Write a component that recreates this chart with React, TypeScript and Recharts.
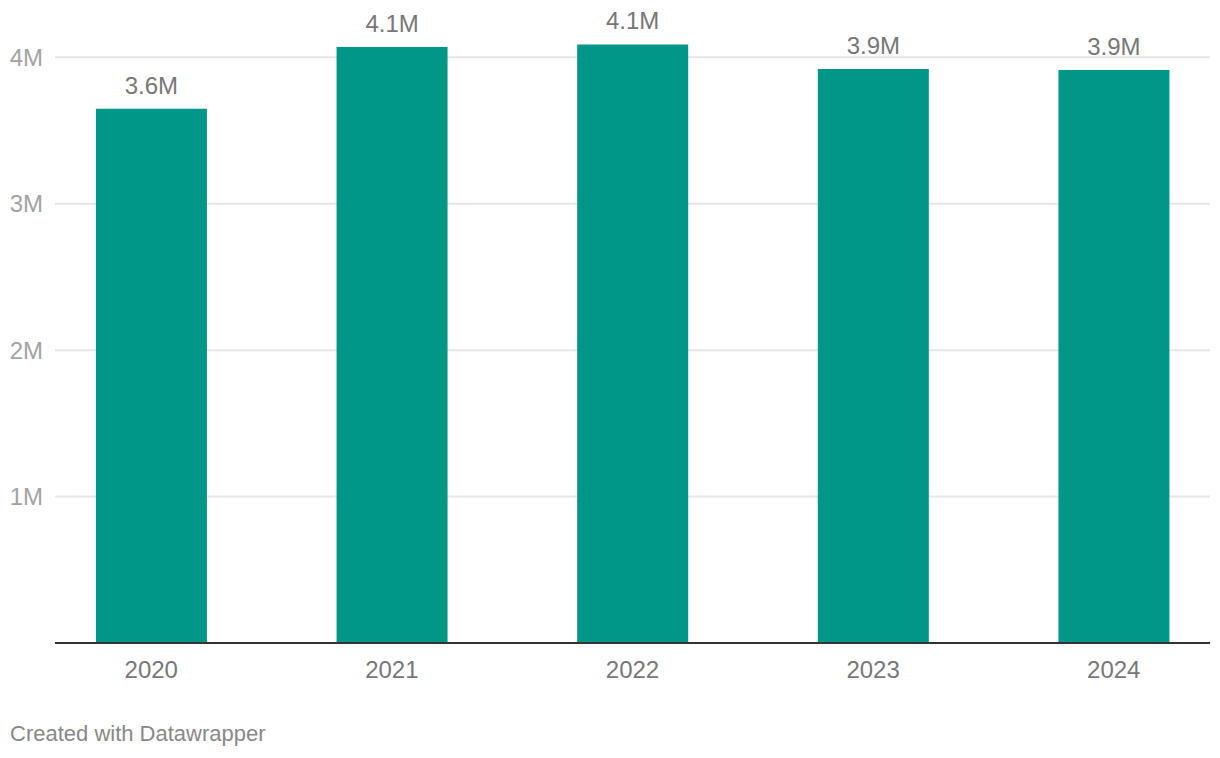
import { BarChart, Bar, XAxis, YAxis, CartesianGrid, LabelList } from 'recharts'

const years = ['2020', '2021', '2022', '2023', '2024']
const visitors = [3648000, 4070000, 4088000, 3920000, 3914000]
const yTicks = [1000000, 2000000, 3000000, 4000000]

const data = years.map((year, i) => ({ idx: i, year, value: visitors[i] }))
const FONT = '"Liberation Sans", Arial, Helvetica, sans-serif'

const fmtM = (v: number) => (v / 1e6).toFixed(1) + 'M'

export default function App() {
  return (
    <div
      style={{
        position: 'absolute',
        left: 0,
        top: 0,
        width: 1220,
        height: 758,
        background: '#fff',
        fontFamily: FONT,
      }}
    >
      <BarChart
        width={1220}
        height={700}
        data={data}
        margin={{ top: 28, right: 10, bottom: 27, left: 0 }}
      >
        <CartesianGrid
          vertical={false}
          horizontalValues={yTicks}
          stroke="#e6e6e6"
          strokeWidth={2}
        />
        <XAxis
          dataKey="idx"
          type="number"
          domain={[-0.4, 4.4]}
          ticks={[0, 1, 2, 3, 4]}
          tickFormatter={(i: number) => years[i]}
          height={30}
          axisLine={{ stroke: '#333', strokeWidth: 2 }}
          tickLine={false}
          tickSize={0}
          tickMargin={18}
          tick={{ fill: '#777', fontSize: 24, fontFamily: FONT }}
        />
        <YAxis
          width={55}
          type="number"
          domain={[0, 4200000]}
          ticks={yTicks}
          axisLine={false}
          tickLine={false}
          tickSize={0}
          tickMargin={12}
          tick={{ fill: '#a3a3a3', fontSize: 24, fontFamily: FONT }}
          tickFormatter={(v: number) => v / 1e6 + 'M'}
        />
        <Bar dataKey="value" fill="#009688" barSize={111} isAnimationActive={false}>
          <LabelList
            dataKey="value"
            position="top"
            offset={15}
            fill="#777"
            fontSize={24}
            fontFamily={FONT}
            formatter={(v: any) => fmtM(Number(v))}
          />
        </Bar>
      </BarChart>
      <div
        style={{
          position: 'absolute',
          left: 10,
          top: 723,
          fontSize: 22,
          lineHeight: '22px',
          color: '#888',
          whiteSpace: 'nowrap',
        }}
      >
        Created with Datawrapper
      </div>
    </div>
  )
}
